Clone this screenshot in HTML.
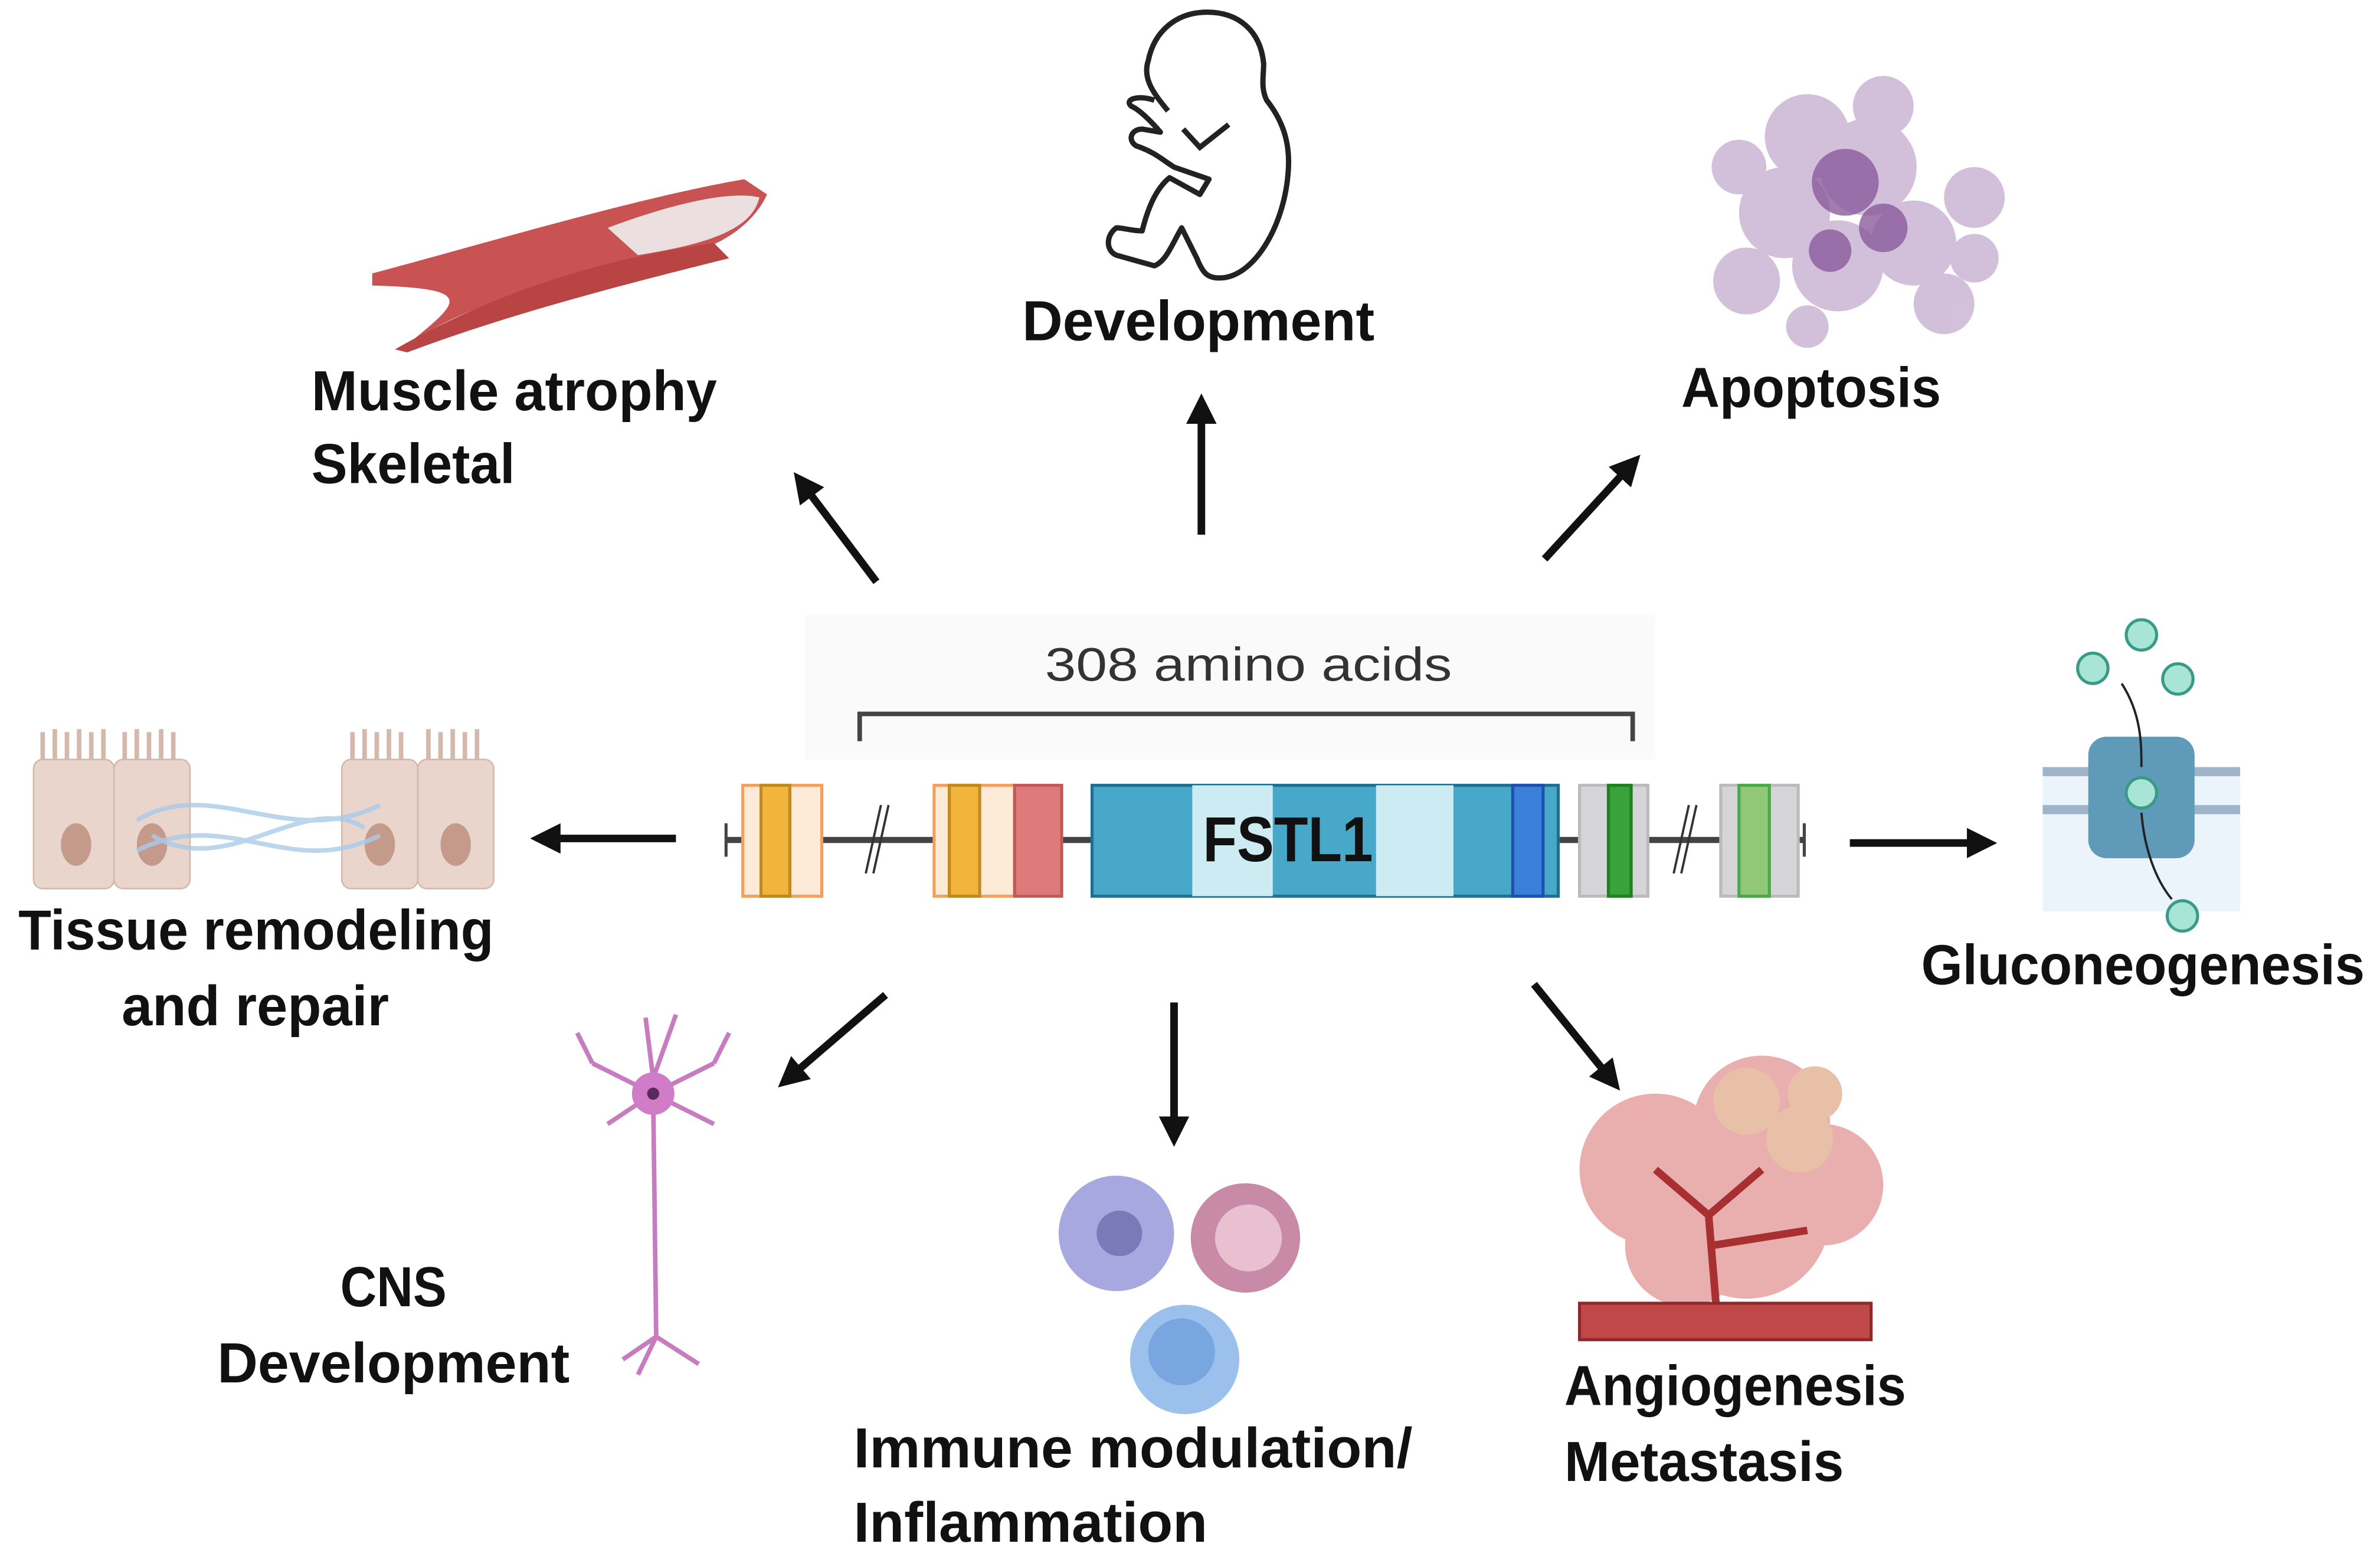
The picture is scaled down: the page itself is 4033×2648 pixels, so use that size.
<!DOCTYPE html>
<html><head><meta charset="utf-8"><style>
html,body{margin:0;padding:0;background:#fff;}
svg{display:block;}
.lb{font-family:"Liberation Sans",sans-serif;font-weight:bold;font-size:37px;fill:#111;}
</style></head><body>
<svg width="4033" height="2648" viewBox="0 0 1567 1029" xmlns="http://www.w3.org/2000/svg">
<defs>
<marker id="ah" markerWidth="4" markerHeight="4" refX="2.2" refY="2" orient="auto" markerUnits="strokeWidth">
<path d="M0,0 L4,2 L0,4 Z" fill="#111"/></marker>
</defs>
<rect width="1567" height="1029" fill="#fff"/>

<!-- arrows -->
<g stroke="#111" stroke-width="5" marker-end="url(#ah)">
<line x1="577" y1="383" x2="528" y2="318"/>
<line x1="791" y1="352" x2="791" y2="268"/>
<line x1="1017" y1="368" x2="1074" y2="306"/>
<line x1="445" y1="552" x2="358" y2="552"/>
<line x1="1218" y1="555" x2="1306" y2="555"/>
<line x1="583" y1="655" x2="519" y2="710"/>
<line x1="773" y1="660" x2="773" y2="746"/>
<line x1="1010" y1="648" x2="1061" y2="711"/>
</g>

<!-- center gene -->
<rect x="530" y="405" width="560" height="95" fill="#fafafa"/>
<text x="822" y="448" font-family="Liberation Sans,sans-serif" font-size="31" fill="#333" text-anchor="middle" textLength="268" lengthAdjust="spacingAndGlyphs">308 amino acids</text>
<path d="M566,488 V470 H1075 V488" fill="none" stroke="#444" stroke-width="3"/>
<line x1="478" y1="553" x2="1188" y2="553" stroke="#444" stroke-width="4"/>
<line x1="478" y1="542" x2="478" y2="564" stroke="#444" stroke-width="2"/>
<line x1="1188" y1="542" x2="1188" y2="564" stroke="#444" stroke-width="2"/>
<g stroke-width="2">
<rect x="489" y="517" width="52" height="73" fill="#fdebd7" stroke="#f0a060"/>
<rect x="501" y="517" width="19" height="73" fill="#f2b53c" stroke="#c08a20"/>
<rect x="615" y="517" width="53" height="73" fill="#fdebd7" stroke="#f0a060"/>
<rect x="625" y="517" width="20" height="73" fill="#f2b53c" stroke="#c08a20"/>
<rect x="668" y="517" width="31" height="73" fill="#e07a7a" stroke="#c05a5a"/>
<rect x="719" y="517" width="307" height="73" fill="#47a8c9" stroke="#1e7090"/>
<rect x="785" y="517" width="53" height="73" fill="#cdebf3" stroke="none"/>
<rect x="906" y="517" width="51" height="73" fill="#cdebf3" stroke="none"/>
<rect x="996" y="517" width="20" height="73" fill="#3a80d8" stroke="#1e50b0"/>
<rect x="1040" y="517" width="45" height="73" fill="#d5d5d8" stroke="#bbb"/>
<rect x="1059" y="517" width="15" height="73" fill="#3aa23a" stroke="#1e801e"/>
<rect x="1133" y="517" width="51" height="73" fill="#d5d5d8" stroke="#bbb"/>
<rect x="1145" y="517" width="20" height="73" fill="#90c878" stroke="#4aa84a"/>
</g>
<g stroke="#333" stroke-width="1.5">
<line x1="570" y1="575" x2="580" y2="530"/><line x1="575" y1="575" x2="585" y2="530"/>
<line x1="1102" y1="575" x2="1112" y2="530"/><line x1="1107" y1="575" x2="1117" y2="530"/>
</g>
<text x="848" y="567" font-family="Liberation Sans,sans-serif" font-weight="bold" font-size="42" fill="#111" text-anchor="middle" textLength="112" lengthAdjust="spacingAndGlyphs">FSTL1</text>

<!-- muscle -->
<path d="M245,180 C320,160 420,130 490,118 L505,128 C495,150 470,165 440,170 C380,180 300,200 262,232 C300,200 320,190 245,188 Z" fill="#c95252"/>
<path d="M260,230 C330,190 400,170 470,160 L480,170 C420,185 340,205 268,232 Z" fill="#b84444"/>
<path d="M400,150 C440,135 480,125 500,130 C495,150 470,160 420,168 Z" fill="#eee" opacity="0.9"/>

<!-- embryo -->
<path d="M769,73 C760,62 752,52 756,40 C760,20 775,8 795,8 C815,8 830,20 832,42 C832,50 830,58 834,66 C845,80 850,95 848,115 C845,150 825,183 803,183 C795,183 792,180 788,170 L778,150 C772,160 768,172 760,175 L735,168 C728,165 728,155 735,150 C740,150 745,152 752,152 C755,140 760,125 770,117 L790,128 L796,118 L773,110 C765,105 760,100 748,96 C742,92 745,85 752,85 L764,87 C758,80 750,72 745,70 C740,66 748,62 760,66" fill="none" stroke="#222" stroke-width="3.5" stroke-linejoin="round"/>
<path d="M779,85 L790,97 L809,82" fill="none" stroke="#222" stroke-width="3.5"/>

<!-- apoptosis -->
<g fill="#b596c2" opacity="0.6">
<circle cx="1190" cy="90" r="28"/><circle cx="1230" cy="110" r="32"/><circle cx="1175" cy="140" r="30"/>
<circle cx="1260" cy="160" r="28"/><circle cx="1210" cy="175" r="30"/><circle cx="1150" cy="185" r="22"/>
<circle cx="1280" cy="200" r="20"/><circle cx="1240" cy="70" r="20"/><circle cx="1300" cy="130" r="20"/>
<circle cx="1145" cy="110" r="18"/><circle cx="1300" cy="170" r="16"/><circle cx="1190" cy="215" r="14"/>
</g>
<g fill="#8a5c9c" opacity="0.8"><circle cx="1215" cy="120" r="22"/><circle cx="1240" cy="150" r="16"/><circle cx="1205" cy="165" r="14"/></g>

<!-- tissue cells -->
<g fill="#ead5cc" stroke="#d4b8ac">
<rect x="22" y="500" width="53" height="85" rx="6"/><rect x="75" y="500" width="50" height="85" rx="6"/>
<rect x="225" y="500" width="50" height="85" rx="6"/><rect x="275" y="500" width="50" height="85" rx="6"/>
</g>
<g stroke="#d4b8ac" stroke-width="3">
<path d="M28,500 V482 M36,500 V480 M44,500 V482 M52,500 V480 M60,500 V482 M68,500 V480 M82,500 V482 M90,500 V480 M98,500 V482 M106,500 V480 M114,500 V482 M232,500 V482 M240,500 V480 M248,500 V482 M256,500 V480 M264,500 V482 M282,500 V480 M290,500 V482 M298,500 V480 M306,500 V482 M314,500 V480"/>
</g>
<g fill="#c49a8a"><ellipse cx="50" cy="556" rx="10" ry="14"/><ellipse cx="100" cy="556" rx="10" ry="14"/><ellipse cx="250" cy="556" rx="10" ry="14"/><ellipse cx="300" cy="556" rx="10" ry="14"/></g>
<g fill="none" stroke="#a9cbe8" stroke-width="3" opacity="0.8">
<path d="M90,540 C140,510 190,560 250,530"/><path d="M90,560 C150,530 190,580 250,550"/><path d="M100,550 C150,580 200,520 240,545"/>
</g>

<!-- gluconeogenesis channel -->
<rect x="1345" y="510" width="130" height="90" fill="#eaf4fa"/>
<g fill="#9fb4c8"><rect x="1345" y="505" width="130" height="6"/><rect x="1345" y="530" width="130" height="6"/></g>
<rect x="1375" y="485" width="70" height="80" rx="12" fill="#5f9ab9"/>
<g fill="#a9e5d6" stroke="#3a9a88" stroke-width="2">
<circle cx="1410" cy="418" r="10"/><circle cx="1378" cy="440" r="10"/><circle cx="1434" cy="447" r="10"/>
<circle cx="1410" cy="522" r="10"/><circle cx="1437" cy="603" r="10"/></g>
<path d="M1397,450 C1410,470 1410,490 1410,505 M1410,535 C1412,560 1420,580 1430,592" fill="none" stroke="#222" stroke-width="1.5"/>

<!-- neuron -->
<g stroke="#c87cc0" stroke-width="3" fill="none">
<path d="M430,720 L432,880 M432,880 L410,895 M432,880 L460,898 M432,880 L420,905 M430,720 L390,700 M430,720 L470,700 M430,720 L400,740 M430,720 L470,740 M390,700 L380,680 M470,700 L480,680 M430,710 L425,670 M430,710 L445,668"/>
</g>
<circle cx="430" cy="720" r="14" fill="#d07cc8"/><circle cx="430" cy="720" r="4" fill="#5a2a5a"/>

<!-- immune cells -->
<circle cx="735" cy="812" r="38" fill="#a8a8e0"/><circle cx="737" cy="812" r="15" fill="#7a7ab8"/>
<circle cx="820" cy="815" r="36" fill="#c98aa8"/><circle cx="822" cy="815" r="22" fill="#e8c0d0"/>
<circle cx="780" cy="895" r="36" fill="#9cc0ec"/><circle cx="778" cy="890" r="22" fill="#7aa6e0"/>

<!-- tumor -->
<g fill="#e6a0a0" opacity="0.85">
<circle cx="1090" cy="770" r="50"/><circle cx="1150" cy="800" r="55"/><circle cx="1200" cy="780" r="40"/><circle cx="1110" cy="820" r="40"/><circle cx="1160" cy="740" r="45"/>
</g>
<g fill="#e8c0a8"><circle cx="1150" cy="725" r="22"/><circle cx="1185" cy="750" r="22"/><circle cx="1195" cy="720" r="18"/></g>
<path d="M1130,860 L1125,800 L1090,770 M1125,800 L1160,770 M1127,820 L1190,810" stroke="#a83030" stroke-width="5" fill="none"/>
<rect x="1040" y="858" width="192" height="24" fill="#c04848" stroke="#8a2a2a" stroke-width="2"/>

<!-- labels -->
<g class="lb">
<text class="lb" x="205" y="270" textLength="267" lengthAdjust="spacingAndGlyphs">Muscle atrophy</text>
<text class="lb" x="205" y="318" textLength="134" lengthAdjust="spacingAndGlyphs">Skeletal</text>
<text class="lb" x="673" y="224" textLength="232" lengthAdjust="spacingAndGlyphs">Development</text>
<text class="lb" x="1107" y="268" textLength="171" lengthAdjust="spacingAndGlyphs">Apoptosis</text>
<text class="lb" x="12" y="625" textLength="313" lengthAdjust="spacingAndGlyphs">Tissue remodeling</text>
<text class="lb" x="80" y="675" textLength="176" lengthAdjust="spacingAndGlyphs">and repair</text>
<text class="lb" x="1265" y="648" textLength="292" lengthAdjust="spacingAndGlyphs">Gluconeogenesis</text>
<text class="lb" x="224" y="860" textLength="70" lengthAdjust="spacingAndGlyphs">CNS</text>
<text class="lb" x="143" y="910" textLength="232" lengthAdjust="spacingAndGlyphs">Development</text>
<text class="lb" x="562" y="966" textLength="368" lengthAdjust="spacingAndGlyphs">Immune modulation/</text>
<text class="lb" x="562" y="1015" textLength="233" lengthAdjust="spacingAndGlyphs">Inflammation</text>
<text class="lb" x="1030" y="925" textLength="225" lengthAdjust="spacingAndGlyphs">Angiogenesis</text>
<text class="lb" x="1030" y="975" textLength="184" lengthAdjust="spacingAndGlyphs">Metastasis</text>
</g>
</svg>
</body></html>
